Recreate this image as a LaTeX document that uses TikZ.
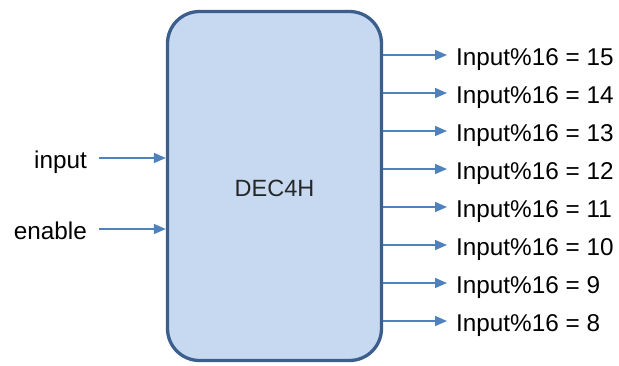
\documentclass[tikz,border=0pt]{standalone}
\usepackage{fontspec}
\setmainfont{Liberation Sans}
\usetikzlibrary{arrows.meta}
\definecolor{boxfill}{HTML}{C6D9F1}
\definecolor{boxline}{HTML}{3B5E8C}
\definecolor{wire}{HTML}{4F81BD}
\begin{document}
\begin{tikzpicture}[x=1pt, y=-1pt,
            block/.style={rectangle, draw=boxline, fill=boxfill, line width=3.3pt, rounded corners=32pt, minimum width=214pt, minimum height=349pt, text=black!85, font=\fontsize{23.5}{28}\selectfont, text height=20pt, text depth=0pt},
            lbl/.style={inner sep=0pt, text=black, font=\fontsize{24.3}{29}\selectfont, text height=21pt, text depth=0pt},
            sig/.style={draw=wire, line width=1.5pt, -{Triangle[length=12pt, width=10pt]}}
        ]
            \useasboundingbox (0,0) rectangle (619,365);
            % Block
            \node[block] (dec) at (274.5, 186) {DEC4H};
            
            % Inputs
            \node[lbl, anchor=east] (in) at (87, 158) {input};
            \node[lbl, anchor=east] (en) at (87, 229) {enable};
            \draw[sig, shorten <=12pt] (in.east) -- (dec.west |- in.east);
            \draw[sig, shorten <=12pt] (en.east) -- (dec.west |- en.east);
            
            % Outputs
            \foreach \i/\v in {0/15, 1/14, 2/13, 3/12, 4/11, 5/10, 6/9, 7/8} {
                \node[lbl, anchor=west] (o\v) at (456, 55+38*\i) {Input\%16 = \v};
                \draw[sig, shorten >=9pt] (dec.east |- o\v.west) -- (o\v.west);
            }
        \end{tikzpicture}
\end{document}
